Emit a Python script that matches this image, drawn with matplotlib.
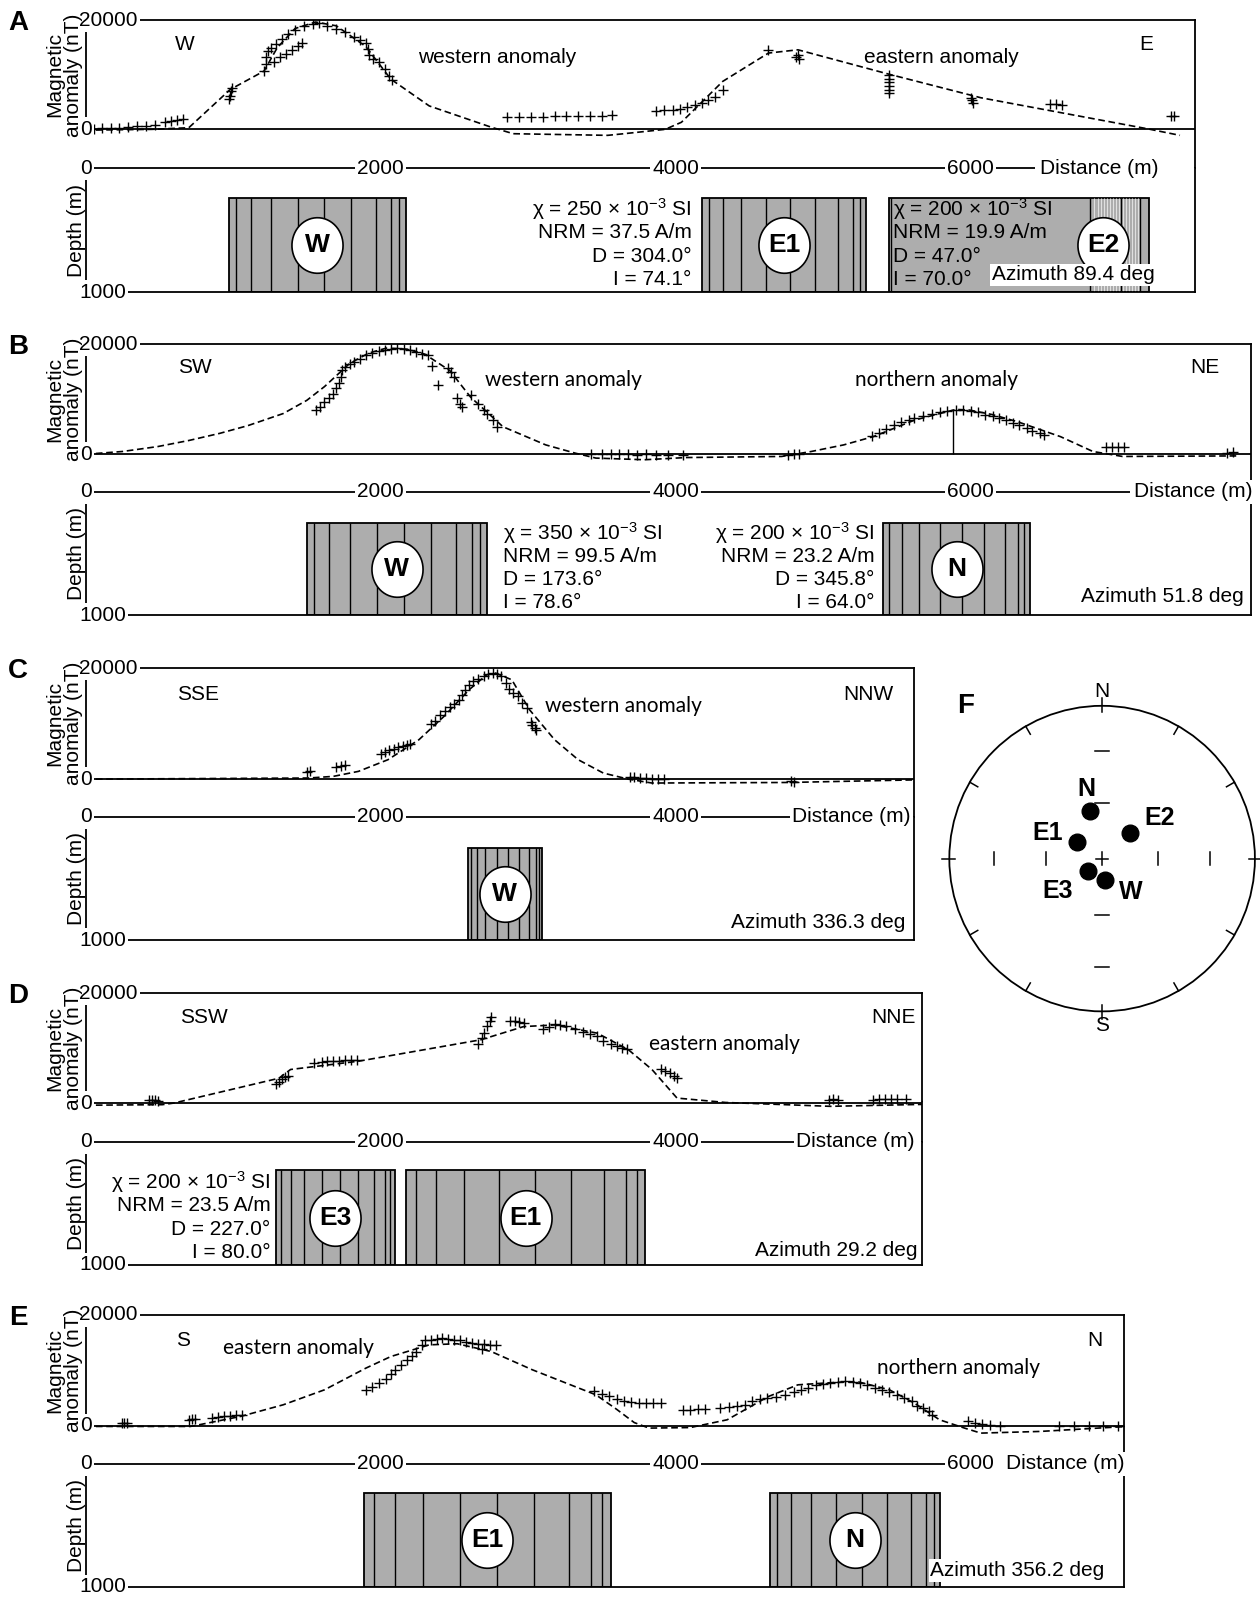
import numpy as np
import matplotlib
matplotlib.use("Agg")
import matplotlib.pyplot as plt
from matplotlib.patches import Rectangle, Circle
from matplotlib.path import Path

plt.rcParams.update({
    "font.family": ["Liberation Sans", "DejaVu Sans"],
    "font.size": 15,
    "mathtext.fontset": "custom",
    "mathtext.rm": "Liberation Sans",
    "mathtext.it": "Liberation Sans:italic",
    "mathtext.bf": "Liberation Sans:bold",
})

# ---------------------------------------------------------------- data
# source bodies: susceptibility (1e-3 SI), NRM (A/m), declination, inclination
body_names = ["W", "E1", "E2", "E3", "N"]
body_chi = [350, 250, 200, 200, 200]
body_nrm = [99.5, 37.5, 19.9, 23.5, 23.2]
body_dec = [173.6, 304.0, 47.0, 227.0, 345.8]
body_inc = [78.6, 74.1, 70.0, 80.0, 64.0]

# profile A (azimuth 89.4 deg)
A_model_dist = [0, 450, 700, 980, 1210, 1300, 1420, 1560, 1700, 1900, 2070, 2330, 2750, 2900,
                3540, 3650, 3930, 4040, 4320, 4630, 4830, 5450, 6070, 7200, 7420]
A_model_nT = [-150, 0, 300, 7300, 10700, 15000, 18500, 19700, 19000, 15200, 9200, 4300, 400, -800,
              -1100, -800, 0, 1300, 8800, 14000, 14600, 10100, 5800, 100, -1100]
A_obs_dist = [60, 110, 170, 230, 290, 350, 410, 470, 540, 580, 620, 660,
              975, 982, 988, 995,
              1210, 1220, 1225, 1235, 1260, 1290, 1330, 1370, 1420, 1480, 1540, 1580, 1640, 1700,
              1760, 1820, 1860, 1900, 1915, 1925, 1950, 1990, 2030, 2060, 2075,
              1280, 1320, 1360, 1400, 1440, 1470,
              2860, 2940, 3020, 3100, 3180, 3260, 3340, 3420, 3500, 3570,
              3870, 3920, 3980, 4030, 4080, 4130, 4180, 4220, 4270, 4320,
              4630, 4820, 4830, 4840,
              5450, 5450, 5450, 5450, 5450, 5450,
              6000, 6010, 6020, 6540, 6580, 6620, 7360, 7380]
A_obs_nT = [100, 200, 250, 300, 450, 550, 700, 800, 1400, 1600, 1700, 1900,
            5500, 6200, 7000, 7600,
            10700, 12000, 13200, 14300, 15000, 15600, 16600, 17500, 18300, 18900, 19300, 19500, 19000, 18400,
            17900, 17000, 16400, 15800, 14800, 13600, 13000, 12300, 11000, 9800, 9000,
            12400, 13200, 13800, 14500, 15300, 15900,
            2300, 2300, 2350, 2350, 2400, 2400, 2400, 2450, 2450, 2600,
            3400, 3500, 3600, 3800, 4100, 4400, 4800, 5400, 6000, 7300,
            14500, 13200, 13600, 13000,
            10000, 9300, 8600, 7900, 7200, 6700,
            5800, 5300, 4900, 4700, 4600, 4500, 2400, 2500]

# profile B (azimuth 51.8 deg)
B_model_dist = [0, 250, 490, 700, 910, 1100, 1340, 1500, 1620, 1790, 1920, 2040, 2180, 2300, 2470,
                2610, 2830, 3120, 3320, 3460, 3790, 4070, 4720, 4920, 5140, 5340, 5620, 5900, 5990,
                6150, 6320, 6610, 6830, 7030, 7820]
B_model_nT = [0, 500, 1400, 2500, 3800, 5200, 7400, 9800, 12300, 16500, 18400, 19300, 19100, 18200, 15200,
              10400, 5000, 1700, 200, -700, -1000, -600, -400, 500, 1700, 3200, 6200, 8150, 8050,
              7200, 5900, 3200, 500, -400, -300]
B_obs_dist = [1560, 1590, 1620, 1650, 1680, 1700, 1720, 1730, 1740, 1760, 1790, 1820, 1860, 1900,
              1940, 1990, 2030, 2070, 2110, 2160, 2200, 2240, 2280, 2320, 2350, 2390, 2460, 2480,
              2500, 2520, 2540, 2555, 2610, 2660, 2700, 2720, 2760, 2790,
              3430, 3500, 3560, 3620, 3680, 3740, 3800, 3870, 3950, 4050, 4760, 4800, 4840,
              5330, 5380, 5430, 5480, 5530, 5580, 5620, 5680, 5740, 5790, 5840, 5900, 5950, 6000,
              6050, 6100, 6150, 6190, 6240, 6290, 6330, 6380, 6420, 6470, 6500,
              6920, 6960, 7000, 7040, 7740, 7780]
B_obs_nT = [8000, 8600, 9500, 10300, 11000, 12000, 12900, 14000, 15300, 15900, 16400, 16700, 17400, 18000,
            18400, 18700, 19000, 19200, 19300, 19200, 18900, 18600, 18200, 18000, 16000, 12600, 15600, 15000,
            14100, 10200, 9200, 8600, 10700, 9200, 8000, 7400, 6200, 5000,
            100, 50, 100, 0, 50, -50, 0, -50, -50, -100, -50, 0, 100,
            3300, 3800, 4600, 5300, 5800, 6300, 6600, 7000, 7400, 7700, 7900, 8100, 8100, 7900,
            7600, 7200, 6900, 6600, 6200, 5700, 5300, 4800, 4300, 3800, 3500,
            1400, 1350, 1300, 1250, 300, 350]

# profile C (azimuth 336.3 deg)
C_model_dist = [0, 1510, 1680, 1850, 2050, 2260, 2430, 2600, 2720, 2780, 2890, 3010, 3180, 3340,
                3510, 3680, 3840, 4760, 5680]
C_model_nT = [0, 200, 500, 1400, 3500, 7100, 11300, 16100, 18800, 19100, 17900, 12500, 7100, 3500,
              1100, 0, -700, -600, -100]
C_obs_dist = [1500, 1520, 1700, 1730, 1760, 2000, 2030, 2060, 2090, 2120, 2150, 2180, 2200,
              2340, 2370, 2400, 2440, 2470, 2500, 2530, 2550, 2570, 2600, 2630, 2660, 2700, 2730,
              2760, 2790, 2820, 2850, 2870, 2900, 2930, 2960, 2990, 3020, 3030, 3045, 3055,
              3690, 3720, 3760, 3800, 3840, 3880, 3920, 4780, 4800, 5670]
C_obs_nT = [1300, 1400, 2200, 2300, 2500, 4600, 4900, 5200, 5500, 5800, 6000, 6200, 6300,
            10000, 10500, 11500, 12300, 13000, 13600, 14300, 15200, 16100, 17000, 17600, 18100, 18600, 19000,
            19200, 19000, 18600, 17300, 16300, 15500, 15000, 13800, 12800, 10300, 9800, 9300, 8800,
            400, 300, 200, 200, 100, 50, 0, -300, -500, 0]

# profile D (azimuth 29.2 deg)
D_model_dist = [0, 520, 600, 1310, 1390, 1850, 2680, 2970, 3180, 3470, 3680, 3840, 4010, 4340, 5050, 5760]
D_model_nT = [-400, -300, 0, 4500, 6100, 7600, 11500, 13900, 14200, 12700, 9700, 6100, 900, 100, -600, -200]
D_obs_dist = [430, 450, 470, 490, 1290, 1310, 1330, 1350, 1370, 1550, 1600, 1640, 1680, 1720, 1760,
              1800, 1840, 2660, 2690, 2700, 2720, 2740, 2750, 2880, 2910, 2940, 2970, 3100, 3140,
              3180, 3220, 3260, 3320, 3370, 3420, 3470, 3510, 3560, 3600, 3640, 3670, 3900, 3930,
              3960, 3990, 4010, 5040, 5070, 5100, 5340, 5380, 5420, 5460, 5500, 5560, 5700, 5740]
D_obs_nT = [500, 600, 500, 400, 3400, 3800, 4300, 4700, 5000, 7300, 7500, 7600, 7700, 7700, 7800,
            7900, 7800, 10700, 11800, 12800, 14000, 15000, 15600, 15000, 14900, 14700, 14600, 13400, 13900,
            14400, 14200, 14000, 13400, 12900, 12500, 12100, 11300, 10800, 10400, 10000, 9800, 6200, 5900,
            5400, 4900, 4500, 600, 700, 600, 600, 700, 700, 650, 700, 800, 400, 400]

# profile E (azimuth 356.2 deg)
E_model_dist = [0, 710, 770, 1050, 1340, 1620, 1900, 2070, 2330, 2520, 2750, 3030, 3460, 3600, 3720,
                3820, 4100, 4350, 4630, 4830, 5060, 5230, 5450, 5620, 5790, 5960, 6070, 6470, 7060]
E_model_nT = [-100, -100, 200, 1700, 3800, 6500, 10400, 12500, 14600, 14800, 13400, 10100, 5600, 3000, 600,
              -400, -300, 1100, 5300, 7400, 7800, 8000, 6500, 4100, 1100, -400, -1300, -1000, -100]
E_obs_dist = [250, 260, 280, 700, 720, 740, 860, 900, 940, 980, 1020, 1060,
              1900, 1940, 1990, 2040, 2070, 2100, 2140, 2180, 2210, 2240, 2280, 2300, 2340, 2380,
              2420, 2460, 2500, 2540, 2580, 2620, 2660, 2700, 2740, 2780, 2690,
              3450, 3500, 3550, 3600, 3650, 3700, 3750, 3800, 3850, 3900,
              4050, 4100, 4150, 4200, 4300, 4360, 4420, 4470, 4520, 4570, 4620, 4680, 4740, 4800,
              4850, 4900, 4950, 5000, 5050, 5100, 5150, 5200, 5250, 5300, 5350, 5400, 5450, 5500,
              5550, 5600, 5640, 5680, 5720, 5740, 5980, 6030, 6080, 6130, 6200,
              6600, 6700, 6800, 6900, 7000, 7050]
E_obs_nT = [500, 600, 500, 1100, 1200, 1300, 1500, 1600, 1700, 1800, 1900, 2000,
            6500, 7000, 7800, 8500, 9300, 10000, 11000, 11800, 12600, 13300, 14600, 15400, 15500, 15600,
            15800, 15700, 15500, 15400, 15200, 15000, 14800, 14700, 14600, 14500, 13900,
            6200, 5800, 5300, 4800, 4500, 4300, 4200, 4100, 4100, 4100,
            2900, 2900, 3000, 3000, 3300, 3400, 3500, 3800, 4400, 4800, 5000, 5200, 5500, 6100,
            6500, 6900, 7300, 7600, 7800, 7900, 8000, 7900, 7700, 7300, 6900, 6500, 6100, 5600,
            5100, 4400, 3600, 3200, 2600, 2000, 800, 600, 300, 200, 0,
            -100, -100, -100, -100, -100, -100]

# ---------------------------------------------------------------- layout
REF_W, REF_H = 1237, 1568          # pixel grid the positions below were measured on
X0_PX, PX_PER_M = 84, 0.1448       # distance 0 and scale of every profile
WHITE = dict(boxstyle="square,pad=0.12", fc="white", ec="none")
SLICES = [0.04, 0.125, 0.24, 0.39, 0.54, 0.69, 0.83, 0.92, 0.965]
_t = np.linspace(0, 2 * np.pi, 60)
OVAL = Path(np.column_stack([0.92 * np.cos(_t), np.sin(_t)]), closed=True)


def fig_box(x0, y0, x1, y1):
    return [x0 / REF_W, 1 - y1 / REF_H, (x1 - x0) / REF_W, (y1 - y0) / REF_H]


def body_note(name):
    i = body_names.index(name)
    return [f"χ = {body_chi[i]} × 10$^{{-3}}$ SI", f"NRM = {body_nrm[i]:.1f} A/m",
            f"D = {body_dec[i]:.1f}°", f"I = {body_inc[i]:.1f}°"]


def draw_body(ax, name, x0, x1, top, label_x=None, fine=False):
    ax.add_patch(Rectangle((x0, top), x1 - x0, 1000 - top, fc="#adadad", ec="k", lw=1.3, zorder=2))
    if fine:
        w = x1 - x0
        ax.vlines(x0 + np.arange(0.79, 0.96, 0.012) * w, top, 1000, color="#e2e2e2", lw=0.7, zorder=2)
        ax.vlines([x0 + f * w for f in (0.006, 0.773, 0.892, 0.964)], top, 1000, color="k", lw=1.0, zorder=2)
    else:
        ax.vlines([x0 + f * (x1 - x0) for f in SLICES], top, 1000, color="k", lw=1.0, zorder=2)
    xc = label_x if label_x is not None else (x0 + x1) / 2
    yc = (top + 1000) / 2
    ax.plot(xc, yc, marker=OVAL, ms=40, mfc="white", mec="k", mew=1.2, zorder=4)
    ax.text(xc, yc, name, ha="center", va="center", fontsize=19, fontweight="bold", zorder=5)


def profile(fig, letter, lay, model, obs, bodies, ticks, line_end, dist_x, compass, anomalies,
            notes, azimuth, marker=None):
    xmax = (lay["right"] - X0_PX) / PX_PER_M
    top, zero, dist, bottom = lay["top"], lay["zero"], lay["dist"], lay["bottom"]

    # magnetic anomaly profile
    ax = fig.add_axes(fig_box(X0_PX, top, lay["right"], dist))
    ax.set_xlim(0, xmax)
    ax.set_ylim(20000 - 20000 * (dist - top) / (zero - top), 20000)
    ax.set_xticks([])
    ax.set_yticks([])
    ax.spines["bottom"].set_visible(False)
    ax.spines["left"].set_bounds(0, 20000)
    for s in ax.spines.values():
        s.set_linewidth(1.3)
    ax.axhline(0, color="k", lw=1.3)
    ax.plot(model[0], model[1], color="k", lw=1.2, dashes=(4, 2.2))
    ax.plot(obs[0], obs[1], "+", color="k", ms=6.5, mew=1.0)
    if marker is not None:
        ax.vlines(marker[0], 0, marker[1], color="k", lw=1.0)
    ax.text(-45, 20000, "20000", ha="left", va="center", bbox=WHITE, zorder=6)
    ax.text(0, 0, "0", ha="center", va="center", bbox=WHITE, zorder=6)
    for txt, x, y in compass:
        ax.text(x, y, txt, ha="center", va="center")
    for txt, x, y, fam in anomalies:
        ax.text(x, y, txt, ha="center", va="center", family=fam)

    # depth section
    dx = fig.add_axes(fig_box(X0_PX, dist, lay["right"], bottom))
    dx.set_xlim(0, xmax)
    dx.set_ylim(1000, 0)
    dx.set_xticks([])
    dx.set_yticks([])
    dx.spines["top"].set_visible(False)
    for s in dx.spines.values():
        s.set_linewidth(1.3)
    dx.hlines(0, 0, line_end, color="k", lw=1.3, clip_on=False)
    dx.text(0, 0, "0", ha="center", va="center", bbox=WHITE, zorder=6)
    dx.text(-45, 1000, "1000", ha="left", va="center", bbox=WHITE, zorder=6)
    for t in ticks:
        dx.text(t, 0, str(t), ha="center", va="center", bbox=WHITE, zorder=6)
    dx.text(dist_x, 0, "Distance (m)", ha="left", va="center", bbox=WHITE, zorder=6)
    for b in bodies:
        draw_body(dx, *b)
    for name, x, ha in notes:
        for k, line in enumerate(body_note(name)):
            dx.text(x, 330 + 190 * k, line, ha=ha, va="center", zorder=6)
    az_txt, az_x, az_y = azimuth
    dx.text(az_x, az_y, az_txt, ha="right", va="center", zorder=6,
            bbox=dict(boxstyle="square,pad=0.08", fc="white", ec="none"))

    # axis titles and panel letter
    fig.text(63 / REF_W, 1 - (top + zero) / 2 / REF_H, "Magnetic\nanomaly (nT)", rotation=90,
             ha="center", va="center", linespacing=0.95)
    fig.text(75 / REF_W, 1 - (dist + bottom) / 2 / REF_H, "Depth (m)", rotation=90,
             ha="center", va="center")
    fig.text(18 / REF_W, 1 - (top + 3) / REF_H, letter, ha="center", va="center",
             fontsize=20, fontweight="bold")


def stereonet(fig):
    cx, cy, R = 1082, 843, 150
    s = 1.25 * R
    ax = fig.add_axes(fig_box(cx - s, cy - s, cx + s, cy + s))
    ax.set_xlim(-1.25, 1.25)
    ax.set_ylim(-1.25, 1.25)
    ax.axis("off")
    ax.add_patch(Circle((0, 0), 1, fill=False, ec="k", lw=1.3))
    for az in range(0, 360, 30):
        a = np.radians(az)
        r0, r1 = (0.96, 1.05) if az % 90 == 0 else (0.94, 1.0)
        ax.plot([r0 * np.sin(a), r1 * np.sin(a)], [r0 * np.cos(a), r1 * np.cos(a)], color="k", lw=1.1)
    for inc in (30, 60):
        r = np.sqrt(2) * np.sin(np.radians(90 - inc) / 2)
        for sg in (-1, 1):
            ax.plot([-0.045, 0.045], [sg * r, sg * r], color="k", lw=1.1)
            ax.plot([sg * r, sg * r], [-0.045, 0.045], color="k", lw=1.1)
    ax.plot([-0.04, 0.04], [0, 0], color="k", lw=1.1)
    ax.plot([0, 0], [-0.04, 0.04], color="k", lw=1.1)
    ax.text(0, 1.03, "N", ha="center", va="bottom")
    ax.text(0, -1.03, "S", ha="center", va="top")

    # lower-hemisphere equal-area projection of the NRM directions
    dec = np.radians(body_dec)
    r = np.sqrt(2) * np.sin(np.radians(90 - np.array(body_inc)) / 2)
    px, py = r * np.sin(dec), r * np.cos(dec)
    ax.plot(px, py, "o", color="k", ms=12)
    offsets = {"W": (0.17, -0.08), "E1": (-0.196, 0.061), "E2": (0.20, 0.10),
               "E3": (-0.20, -0.126), "N": (-0.025, 0.144)}
    for name, x, y in zip(body_names, px, py):
        ox, oy = offsets[name]
        ax.text(x + ox, y + oy, name, ha="center", va="center", fontsize=18, fontweight="bold")
    fig.text(948 / REF_W, 1 - 693 / REF_H, "F", ha="center", va="center", fontsize=20, fontweight="bold")


fig = plt.figure(figsize=(12.6, 15.97), dpi=100)

profile(fig, "A", dict(top=20, zero=127, dist=165, bottom=287, right=1173),
        (A_model_dist, A_model_nT), (A_obs_dist, A_obs_nT),
        [("W", 970, 2170, 240), ("E1", 4180, 5290, 240), ("E2", 5450, 7210, 240, 6900, True)],
        [2000, 4000, 6000], 6440, 6470,
        [("W", 670, 15500), ("E", 7190, 15500)],
        [("western anomaly", 2790, 13100, "Liberation Sans"), ("eastern anomaly", 5800, 13100, "Liberation Sans")],
        [("E1", 4110, "right"), ("E2", 5475, "left")],
        ("Azimuth 89.4 deg", 7250, 860))

profile(fig, "B", dict(top=338, zero=446, dist=483, bottom=604, right=1228),
        (B_model_dist, B_model_nT), (B_obs_dist, B_obs_nT),
        [("W", 1500, 2720, 250), ("N", 5410, 6400, 250)],
        [2000, 4000, 6000], 7080, 7110,
        [("SW", 740, 15700), ("NE", 7590, 15700)],
        [("western anomaly", 3240, 13500, "Lato"), ("northern anomaly", 5770, 13500, "Lato")],
        [("W", 2830, "left"), ("N", 5350, "right")],
        ("Azimuth 51.8 deg", 7850, 850),
        marker=(5880, 8100))

profile(fig, "C", dict(top=656, zero=765, dist=802, bottom=923, right=897),
        (C_model_dist, C_model_nT), (C_obs_dist, C_obs_nT),
        [("W", 2590, 3094, 255)],
        [2000, 4000], 4780, 4790,
        [("SSE", 760, 15200), ("NNW", 5310, 15200)],
        [("western anomaly", 3650, 13200, "Lato")],
        [],
        ("Azimuth 336.3 deg", 5560, 860))

profile(fig, "D", dict(top=975, zero=1083, dist=1121, bottom=1242, right=905),
        (D_model_dist, D_model_nT), (D_obs_dist, D_obs_nT),
        [("E3", 1290, 2095, 230), ("E1", 2175, 3792, 230)],
        [2000, 4000], 4810, 4820,
        [("SSW", 800, 15500), ("NNE", 5480, 15500)],
        [("eastern anomaly", 4330, 10700, "Lato")],
        [("E3", 1255, "right")],
        ("Azimuth 29.2 deg", 5640, 884))

profile(fig, "E", dict(top=1291, zero=1400, dist=1437, bottom=1558, right=1103),
        (E_model_dist, E_model_nT), (E_obs_dist, E_obs_nT),
        [("E1", 1890, 3560, 240), ("N", 4640, 5790, 240)],
        [2000, 4000, 6000], 6000, 6240,
        [("S", 660, 15400), ("N", 6840, 15400)],
        [("eastern anomaly", 1440, 14100, "Lato"), ("northern anomaly", 5920, 10500, "Lato")],
        [],
        ("Azimuth 356.2 deg", 6910, 868))

stereonet(fig)

fig.savefig("out.png", dpi=100, facecolor="white")
